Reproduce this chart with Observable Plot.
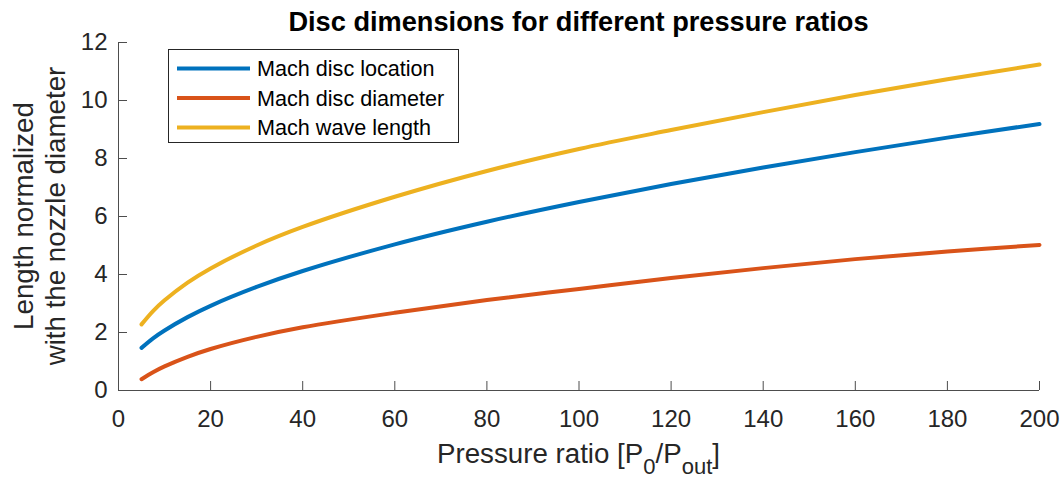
<!DOCTYPE html>
<html><head><meta charset="utf-8">
<script src="https://cdn.jsdelivr.net/npm/d3@7"></script>
<script src="https://cdn.jsdelivr.net/npm/@observablehq/plot@0.6"></script>
<style>body{margin:0;background:#fff;} svg{display:block}</style>
</head><body><div id="chart"></div>
<script>
// ---- data ----
const pressureRatio = [5, 7.5, 10, 15, 20, 30, 40, 60, 80, 100, 120, 140, 160, 180, 200];
const discLocation  = [1.47, 1.80, 2.07, 2.53, 2.92, 3.57, 4.12, 5.04, 5.82, 6.50, 7.12, 7.69, 8.22, 8.72, 9.19];
const discDiameter  = [0.39, 0.63, 0.83, 1.16, 1.43, 1.85, 2.18, 2.68, 3.12, 3.50, 3.88, 4.22, 4.53, 4.79, 5.02];
const waveLength    = [2.28, 2.74, 3.11, 3.72, 4.21, 5.00, 5.64, 6.68, 7.57, 8.33, 8.98, 9.60, 10.19, 10.73, 11.24];
const seriesNames = ["Mach disc location", "Mach disc diameter", "Mach wave length"];
const seriesColors = ["#0072BD", "#D95319", "#EDB120"];
const xTicks = [0, 20, 40, 60, 80, 100, 120, 140, 160, 180, 200];
const yTicks = [0, 2, 4, 6, 8, 10, 12];
const titleText = "Disc dimensions for different pressure ratios";
const yLabelLines = ["Length normalized", "with the nozzle diameter"];
const xLabelParts = [["Pressure ratio [P", 0], ["0", 1], ["/P", 0], ["out", 1], ["]", 0]];

const seriesValues = [discLocation, discDiameter, waveLength];
const rows = [];
seriesValues.forEach((vals, i) => vals.forEach((v, j) => rows.push({series: seriesNames[i], p: pressureRatio[j], v})));

const W = 1063, H = 479, mL = 118, mR = 24, mT = 42, mB = 89;
const plotW = W - mL - mR, plotH = H - mT - mB;
const font = "'Liberation Sans', Arial, Helvetica, sans-serif";
const textColor = "#262626";
const lineColor = "#4d4d4d";

const chart = Plot.plot({
  width: W, height: H,
  marginLeft: mL, marginRight: mR, marginTop: mT, marginBottom: mB,
  style: {fontFamily: font, fontSize: "24px", color: textColor, background: "#fff"},
  x: {domain: [0, 200]},
  y: {domain: [0, 12]},
  color: {domain: seriesNames, range: seriesColors},
  marks: [
    Plot.axisX(xTicks, {tickSize: 0, tickPadding: 19, label: null, fontSize: 24}),
    Plot.axisY(yTicks, {tickSize: 0, tickPadding: 11, label: null, fontSize: 24}),
    Plot.tickX(xTicks, {x: d => d, insetTop: plotH - 9, stroke: lineColor}),
    Plot.tickY(yTicks, {y: d => d, insetRight: plotW - 9, stroke: lineColor}),
    Plot.ruleY([0], {stroke: lineColor}),
    Plot.ruleX([0], {stroke: lineColor}),
    Plot.line(rows, {x: "p", y: "v", stroke: "series", z: "series", strokeWidth: 4, curve: "catmull-rom"})
  ]
});
document.getElementById("chart").appendChild(chart);

const svg = d3.select(chart);
// title
svg.append("text")
  .attr("x", mL + plotW / 2).attr("y", 31)
  .attr("text-anchor", "middle")
  .attr("font-family", font).attr("font-weight", "bold").attr("font-size", 27.2)
  .attr("fill", "#000")
  .text(titleText);
// y label (two lines)
const yMid = mT + plotH / 2;
[33, 65].forEach((bx, i) => {
  svg.append("text")
    .attr("transform", `translate(${bx},${yMid}) rotate(-90)`)
    .attr("text-anchor", "middle")
    .attr("font-family", font).attr("font-size", 27.7)
    .attr("fill", textColor)
    .text(yLabelLines[i]);
});
// x label with subscripts
const xl = svg.append("text")
  .attr("x", mL + plotW / 2).attr("y", 463)
  .attr("text-anchor", "middle")
  .attr("font-family", font).attr("font-size", 27.7)
  .attr("fill", textColor);
let prevSub = 0;
xLabelParts.forEach(([t, sub]) => {
  const ts = xl.append("tspan").text(t);
  const shift = (sub ? 11 : 0) - (prevSub ? 11 : 0);
  if (shift) ts.attr("dy", shift);
  if (sub) ts.attr("font-size", 22);
  prevSub = sub;
});
// legend
const lg = svg.append("g");
lg.append("rect").attr("x", 168.5).attr("y", 49.5).attr("width", 290).attr("height", 93)
  .attr("fill", "#fff").attr("stroke", textColor).attr("stroke-width", 1);
seriesNames.forEach((name, i) => {
  const cy = 68.5 + i * 29.5;
  lg.append("line").attr("x1", 177).attr("x2", 250).attr("y1", cy).attr("y2", cy)
    .attr("stroke", seriesColors[i]).attr("stroke-width", 4);
  lg.append("text").attr("x", 257).attr("y", cy + 7.5)
    .attr("text-anchor", "start")
    .attr("font-family", font).attr("font-size", 21.6).attr("fill", "#000")
    .text(name);
});
</script>
</body></html>
